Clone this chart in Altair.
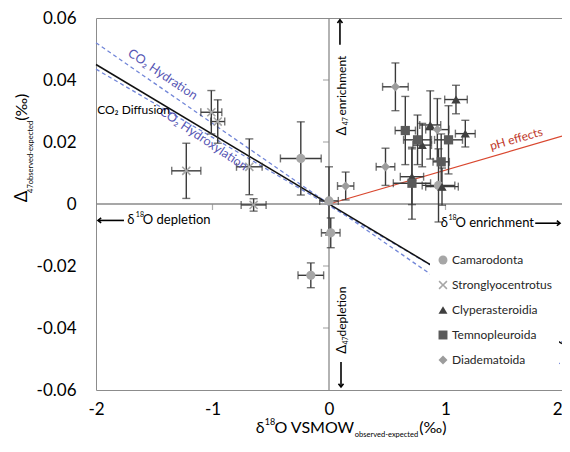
import altair as alt
import pandas as pd

# ---------------- data ----------------
cats = ["Camarodonta", "Stronglyocentrotus", "Clyperasteroidia", "Temnopleuroida", "Diadematoida"]

cam_x = [0.0, -0.242, 0.015, -0.156, 0.94]
cam_y = [0.001, 0.0147, -0.0093, -0.023, 0.006]
cam_xe = [0.08, 0.175, 0.08, 0.11, 0.14]
cam_ye = [0.011, 0.0118, 0.0048, 0.004, 0.0118]

str_x = [-1.01, -0.955, -1.225, -0.684, -0.647]
str_y = [0.0296, 0.0266, 0.0107, 0.012, -0.0003]
str_xe = [0.09, 0.06, 0.125, 0.11, 0.107]
str_ye = [0.007, 0.007, 0.0089, 0.009, 0.002]

cly_x = [1.09, 0.869, 0.80, 1.17, 0.712, 0.97]
cly_y = [0.0337, 0.0255, 0.019, 0.0227, 0.0088, 0.0056]
cly_xe = [0.097, 0.09, 0.08, 0.085, 0.1, 0.14]
cly_ye = [0.0046, 0.011, 0.007, 0.0043, 0.009, 0.006]

tem_x = [0.655, 0.76, 1.026, 0.963, 0.712]
tem_y = [0.0237, 0.0207, 0.0207, 0.0136, 0.0067]
tem_xe = [0.087, 0.12, 0.12, 0.07, 0.16]
tem_ye = [0.011, 0.008, 0.011, 0.009, 0.0116]

dia_x = [0.143, 0.485, 0.57, 0.93]
dia_y = [0.0058, 0.012, 0.0378, 0.024]
dia_xe = [0.07, 0.08, 0.11, 0.1]
dia_ye = [0.0045, 0.006, 0.0077, 0.01]

line_x = [-2, 2]
diffusion_y = [0.045, -0.045]
hydration_y = [0.052, -0.052]
hydroxylation_y = [0.0435, -0.0445]
ph_x = [0, 2]
ph_y = [0, 0.0219]

x_ticks = [-2, -1, 0, 1, 2]
y_ticks = [-0.06, -0.04, -0.02, 0, 0.02, 0.04, 0.06]
inner_y_ticks = [-0.04, -0.02, 0.02, 0.04]
inner_x_ticks = [-1, 1]

# ---------------- tables ----------------
rows = []
for c, xs_, ys_, xe_, ye_ in [
    (cats[0], cam_x, cam_y, cam_xe, cam_ye),
    (cats[1], str_x, str_y, str_xe, str_ye),
    (cats[2], cly_x, cly_y, cly_xe, cly_ye),
    (cats[3], tem_x, tem_y, tem_xe, tem_ye),
    (cats[4], dia_x, dia_y, dia_xe, dia_ye),
]:
    for a, b, e, f in zip(xs_, ys_, xe_, ye_):
        rows.append(dict(cat=c, x=a, y=b, xlo=a - e, xhi=a + e, ylo=b - f, yhi=b + f))
pts = pd.DataFrame(rows)

FONT = "Lato"
xs = alt.Scale(domain=[-2, 2], nice=False, zero=False)
ys = alt.Scale(domain=[-0.06, 0.06], nice=False, zero=False)
xaxis = alt.Axis(values=x_ticks, title=None, labelExpr="toString(datum.value)",
                 labelFlush=False, labelPadding=11,
                 labelAlign={"condition": {"test": "datum.value == 2", "value": "right"},
                             "value": "center"})
yaxis = alt.Axis(values=y_ticks, title=None,
                 labelExpr="datum.value == 0 ? '0' : toString(round(datum.value*100)/100)",
                 labelPadding=20)


def X(f):
    return alt.X(f, type="quantitative", scale=xs, axis=xaxis)


def Y(f):
    return alt.Y(f, type="quantitative", scale=ys, axis=yaxis)


layers = []

# zero axes
layers.append(alt.Chart(pd.DataFrame({"x": [0], "y": [-0.06], "y2": [0.06]}))
              .mark_rule(color="#8a8a8a", strokeWidth=1.3)
              .encode(x=X("x"), y=Y("y"), y2="y2"))
layers.append(alt.Chart(pd.DataFrame({"x": [-2], "x2": [2], "y": [0]}))
              .mark_rule(color="#8a8a8a", strokeWidth=1.3)
              .encode(x=X("x"), x2="x2", y=Y("y")))
layers.append(alt.Chart(pd.DataFrame({"x": [0] * len(inner_y_ticks), "y": inner_y_ticks}))
              .mark_tick(orient="horizontal", size=6, xOffset=-3, color="#8a8a8a", thickness=1.2)
              .encode(x=X("x"), y=Y("y")))
layers.append(alt.Chart(pd.DataFrame({"x": inner_x_ticks, "y": [0] * len(inner_x_ticks)}))
              .mark_tick(orient="vertical", size=6, yOffset=3, color="#8a8a8a", thickness=1.2)
              .encode(x=X("x"), y=Y("y")))

# model lines
layers.append(alt.Chart(pd.DataFrame({"x": line_x, "y": hydration_y}))
              .mark_line(color="#7286d8", strokeWidth=1.3, strokeDash=[4, 3])
              .encode(x=X("x"), y=Y("y")))
layers.append(alt.Chart(pd.DataFrame({"x": line_x, "y": hydroxylation_y}))
              .mark_line(color="#7286d8", strokeWidth=1.3, strokeDash=[4, 3])
              .encode(x=X("x"), y=Y("y")))
layers.append(alt.Chart(pd.DataFrame({"x": line_x, "y": diffusion_y}))
              .mark_line(color="#111111", strokeWidth=1.5)
              .encode(x=X("x"), y=Y("y")))
layers.append(alt.Chart(pd.DataFrame({"x": ph_x, "y": ph_y}))
              .mark_line(color="#d9472f", strokeWidth=1.2)
              .encode(x=X("x"), y=Y("y")))

# error bars
EB = "#3a3a3a"
base = alt.Chart(pts)
layers.append(base.mark_rule(color=EB, strokeWidth=1.4).encode(x=X("x"), y=Y("ylo"), y2="yhi"))
layers.append(base.mark_rule(color=EB, strokeWidth=1.4).encode(y=Y("y"), x=X("xlo"), x2="xhi"))
for f in ["ylo", "yhi"]:
    layers.append(base.mark_tick(orient="horizontal", size=8, thickness=1.4, color=EB)
                  .encode(x=X("x"), y=Y(f)))
for f in ["xlo", "xhi"]:
    layers.append(base.mark_tick(orient="vertical", size=8, thickness=1.4, color=EB)
                  .encode(x=X(f), y=Y("y")))

# points
xpath = ("M-1,-0.75L-0.75,-1L0,-0.25L0.75,-1L1,-0.75L0.25,0L1,0.75L0.75,1"
         "L0,0.25L-0.75,1L-1,0.75L-0.25,0Z")
shapes = ["circle", xpath, "triangle-up", "square", "diamond"]
colors = ["#a6a6a6", "#a6a6a6", "#3f3f3f", "#5a5a5a", "#9c9c9c"]
leg = alt.Legend(orient="none", legendX=334, legendY=229, title=None, fillColor="white",
                 padding=7, symbolSize=80, labelFontSize=12, labelFont=FONT,
                 labelColor="#262626", rowPadding=13, symbolStrokeWidth=0,
                 labelOffset=3, symbolOpacity=1)
layers.append(base.mark_point(filled=True, size=85, opacity=1)
              .encode(x=X("x"), y=Y("y"),
                      shape=alt.Shape("cat:N", scale=alt.Scale(domain=cats, range=shapes), legend=leg),
                      color=alt.Color("cat:N", scale=alt.Scale(domain=cats, range=colors), legend=leg)))

# arrows
arr_shaft = pd.DataFrame({
    "x": [0.094, 0.103, -1.983, 1.77],
    "x2": [0.094, 0.103, -1.76, 1.983],
    "y": [0.0514, -0.0510, -0.0053, -0.0062],
    "y2": [0.0594, -0.0590, -0.0053, -0.0062],
})
layers.append(alt.Chart(arr_shaft).mark_rule(color="black", strokeWidth=1.6)
              .encode(x=X("x"), x2="x2", y=Y("y"), y2="y2"))
arr_head = pd.DataFrame({
    "x": [0.094, 0.103, -1.983, 1.983],
    "y": [0.0594, -0.0590, -0.0053, -0.0062],
    "ang": [270, 90, 180, 0],
})
layers.append(alt.Chart(arr_head)
              .mark_point(shape="M-1,-0.8L0,0L-1,0.8", filled=False, size=40, color="black",
                          strokeWidth=1.6, opacity=1)
              .encode(x=X("x"), y=Y("y"), angle=alt.Angle("ang:Q", scale=None)))

# text annotations: (text, x, y, size, angle, color, align)
BLUE = "#5656b4"
ann = [
    ("CO\u2082 Hydration", -1.427, 0.0418, 12.5, 34, BLUE, "center"),
    ("CO\u2082 Hydroxylation", -1.077, 0.0210, 12.5, 34, BLUE, "center"),
    ("CO\u2082 Diffusion", -1.99, 0.0302, 12, 0, "black", "left"),
    ("pH effects", 1.607, 0.0210, 12, 344, "#c0392b", "center"),
    ("\u0394", 0.111, 0.0235, 13, 270, "black", "center"),
    ("47", 0.150, 0.0267, 7, 270, "black", "center"),
    ("enrichment", 0.111, 0.0382, 12, 270, "black", "center"),
    ("\u0394", 0.111, -0.0469, 13, 270, "black", "center"),
    ("47", 0.150, -0.0440, 7, 270, "black", "center"),
    ("depletion", 0.111, -0.0347, 12, 270, "black", "center"),
    ("\u03b4", -1.70, -0.0053, 13, 0, "black", "center"),
    ("18", -1.658, -0.0037, 7, 0, "black", "left"),
    ("O depletion", -1.598, -0.0053, 13, 0, "black", "left"),
    ("\u03b4", 0.991, -0.0062, 13, 0, "black", "center"),
    ("18", 1.026, -0.0046, 7, 0, "black", "left"),
    ("O enrichment", 1.085, -0.0062, 13, 0, "black", "left"),
    # x axis title
    ("\u03b4", -0.592, -0.0724, 16, 0, "black", "center"),
    ("18", -0.552, -0.0704, 9, 0, "black", "left"),
    ("O VSMOW", -0.468, -0.0724, 16, 0, "black", "left"),
    ("observed-expected", 0.222, -0.0746, 7.5, 0, "black", "left"),
    ("(\u2030)", 0.775, -0.0724, 16, 0, "black", "left"),
    # y axis title
    ("\u0394", -2.632, 0.0024, 17, 270, "black", "center"),
    ("47observed-expected", -2.560, 0.0152, 7.5, 270, "black", "center"),
    ("(\u2030)", -2.632, 0.0312, 16, 270, "black", "center"),
]
for t, ax, ay, sz, an, col, al in ann:
    layers.append(alt.Chart(pd.DataFrame({"x": [ax], "y": [ay], "t": [t]}))
                  .mark_text(font=FONT, fontSize=sz, angle=an, color=col, align=al, baseline="middle")
                  .encode(x=X("x"), y=Y("y"), text="t:N"))

chart = (alt.layer(*layers)
         .properties(width=466, height=372, autosize=alt.AutoSizeParams(type="none"),
                     padding={"left": 88, "top": 10, "right": 0, "bottom": 50})
         .configure_view(stroke="#8c8c8c", strokeWidth=1)
         .configure_axis(domain=False, ticks=False, grid=False, labelFont=FONT,
                         labelFontSize=17, labelColor="black"))

chart.save("out.html", embed_options={"renderer": "svg", "actions": False})
